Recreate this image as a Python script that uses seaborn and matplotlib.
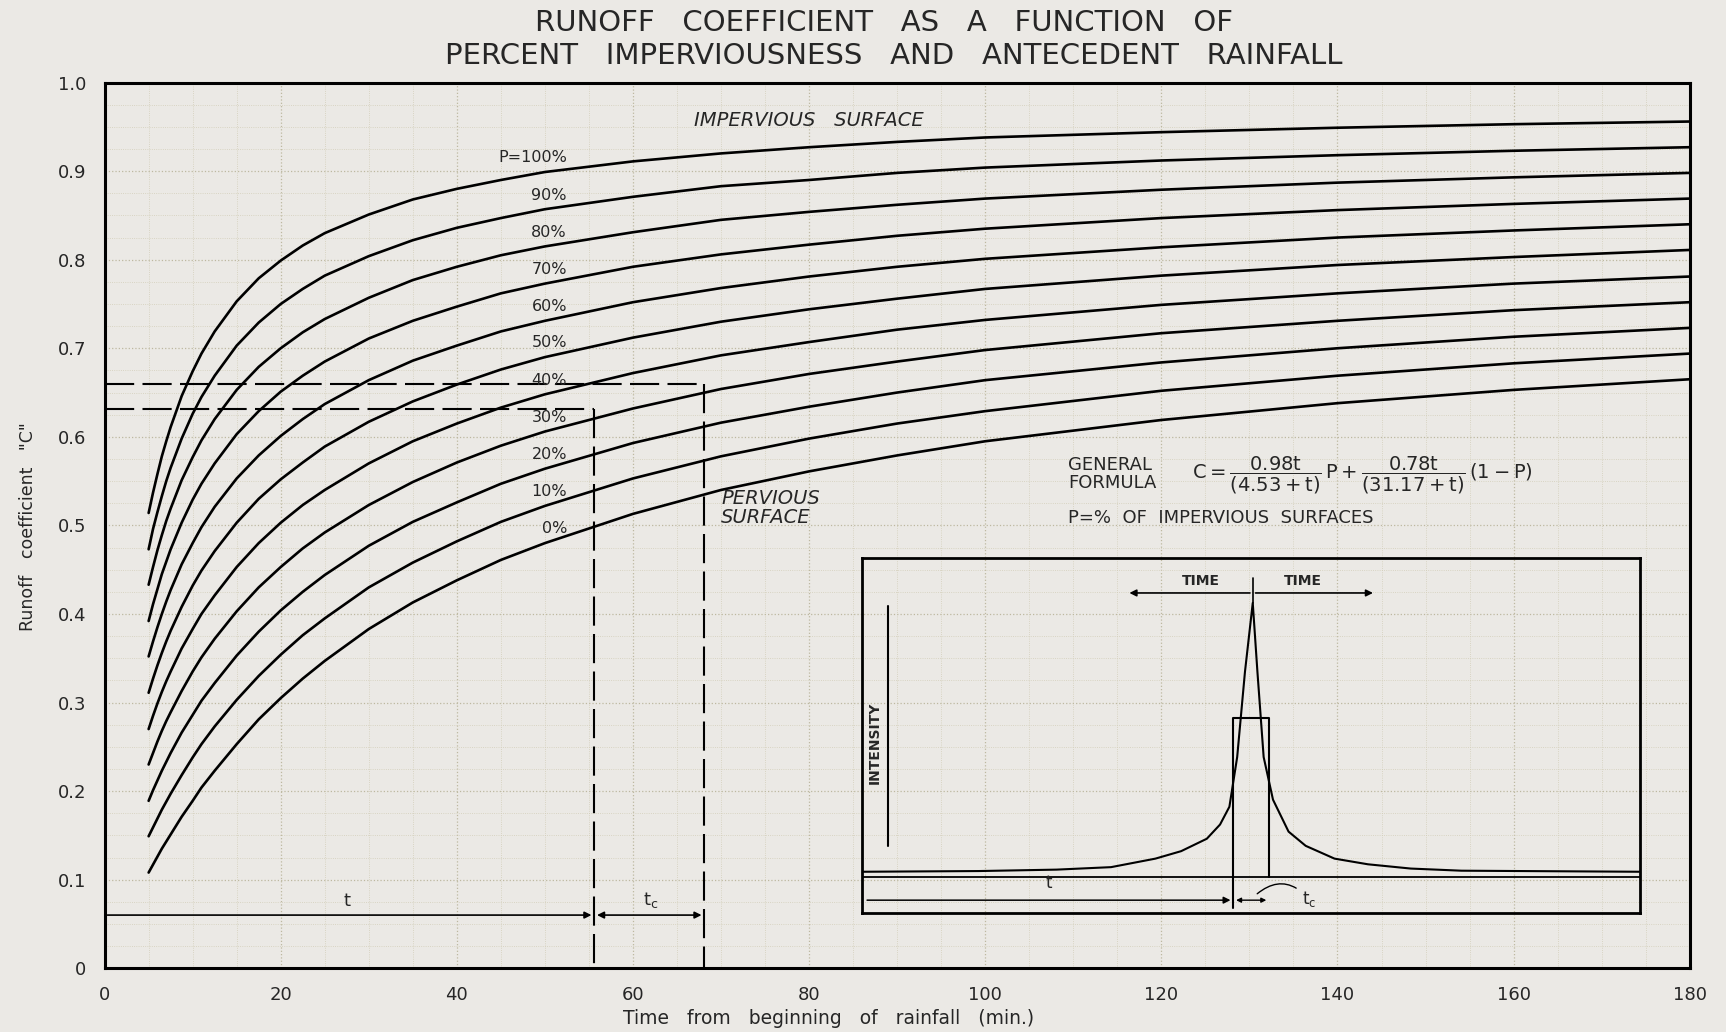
import numpy as np
import pandas as pd
import seaborn as sns
import matplotlib.pyplot as plt

# Runoff coefficient C, one list per % impervious
time_min = [5, 5.5, 6, 6.5, 7, 7.5, 8.75, 10, 11, 12.5, 15, 17.5, 20, 22.5, 25, 30, 35, 40, 45,
            50, 60, 70, 80, 90, 100, 120, 140, 160, 180]
c_p0 = [.108, .117, .126, .135, .143, .151, .171, .189, .204, .223, .253, .281, .305, .327, .347,
        .383, .413, .438, .461, .480, .513, .540, .561, .579, .595, .619, .638, .653, .665]
c_p10 = [.149, .159, .169, .179, .188, .197, .218, .238, .253, .273, .303, .330, .354, .376, .395,
         .430, .458, .482, .504, .522, .553, .578, .598, .615, .629, .652, .669, .683, .694]
c_p20 = [.189, .201, .212, .223, .233, .243, .266, .286, .302, .322, .353, .380, .404, .425, .444,
         .477, .504, .526, .547, .564, .593, .616, .634, .650, .664, .684, .700, .713, .723]
c_p30 = [.230, .243, .256, .268, .279, .289, .313, .335, .351, .372, .403, .430, .453, .474, .492,
         .523, .549, .571, .590, .606, .632, .654, .671, .685, .698, .717, .731, .743, .752]
c_p40 = [.270, .285, .299, .312, .324, .335, .361, .383, .400, .421, .453, .480, .503, .523, .540,
         .570, .595, .615, .633, .648, .672, .692, .707, .721, .732, .749, .762, .773, .781]
c_p50 = [.311, .327, .342, .356, .369, .381, .408, .432, .449, .471, .503, .530, .552, .571, .589,
         .617, .640, .659, .676, .690, .712, .730, .744, .756, .767, .782, .794, .803, .811]
c_p60 = [.352, .369, .385, .400, .414, .427, .456, .480, .498, .521, .553, .579, .601, .620, .637,
         .664, .686, .703, .719, .731, .752, .768, .781, .792, .801, .814, .825, .833, .840]
c_p70 = [.392, .411, .428, .445, .459, .473, .503, .529, .547, .570, .603, .629, .651, .669, .685,
         .711, .731, .747, .762, .773, .792, .806, .817, .827, .835, .847, .856, .863, .869]
c_p80 = [.433, .453, .472, .489, .505, .519, .551, .577, .596, .620, .653, .679, .700, .718, .733,
         .757, .777, .792, .805, .815, .831, .845, .854, .862, .869, .879, .887, .893, .898]
c_p90 = [.473, .496, .515, .533, .550, .565, .598, .626, .645, .669, .703, .729, .750, .767, .782,
         .804, .822, .836, .847, .857, .871, .883, .890, .898, .904, .912, .918, .923, .927]
c_p100 = [.514, .537, .558, .578, .595, .611, .646, .674, .694, .719, .753, .779, .799, .816, .830,
          .851, .868, .880, .890, .899, .911, .920, .927, .933, .938, .944, .949, .953, .956]
pct_impervious = [0, 10, 20, 30, 40, 50, 60, 70, 80, 90, 100]
curve_labels = ["0%", "10%", "20%", "30%", "40%", "50%", "60%", "70%", "80%", "90%", "P=100%"]

# worked example
example_t = [55.6, 68.1]
example_c = [0.631, 0.66]

# inset hyetograph (percent of inset width / height)
hyeto_x = [0, 15, 25, 32, 37.7, 41, 44.3, 46, 47.2, 48.2, 49.2, 50.2, 50.8, 51.6, 52.8, 54.8, 57, 60.7, 65, 70.5, 77, 100]
hyeto_y = [11.7, 11.9, 12.3, 13, 15.4, 17.5, 21, 25, 30, 44, 68, 87.4, 68, 44, 32, 23, 19, 15.4, 13.8, 12.6, 12, 11.7]

all_c = [c_p0, c_p10, c_p20, c_p30, c_p40, c_p50, c_p60, c_p70, c_p80, c_p90, c_p100]
df = pd.concat([pd.DataFrame({"t": time_min, "C": c, "P": p})
                for c, p in zip(all_c, pct_impervious)], ignore_index=True)

sns.set_style("white")
plt.rcParams["font.family"] = ["DejaVu Sans"]
plt.rcParams["mathtext.fontset"] = "dejavusans"
paper = "#ebe9e5"

fig = plt.figure(figsize=(17.26, 10.32), dpi=100, facecolor=paper)
ax = fig.add_axes([0.0606, 0.0618, 0.9184, 0.8582], facecolor=paper)

sns.lineplot(data=df, x="t", y="C", units="P", estimator=None,
             color="black", lw=1.9, ax=ax, legend=False)

ax.set_xlim(0, 180)
ax.set_ylim(0, 1.0)
ax.set_xticks(np.arange(0, 181, 20))
ax.set_yticks(np.arange(0, 1.01, 0.1))
ax.set_yticklabels(["0"] + [f"{v:.1f}" for v in np.arange(0.1, 1.01, 0.1)])
ax.tick_params(length=0, labelsize=13, pad=13)
ax.set_xlabel("")
ax.set_ylabel("")
ax.set_xticks(np.arange(0, 181, 5), minor=True)
ax.set_yticks(np.arange(0, 1.0, 0.025), minor=True)
ax.grid(which="major", ls=":", lw=0.9, color="#bdb8a0")
ax.grid(which="minor", ls=":", lw=0.6, color="#d2cdb8")
for s in ax.spines.values():
    s.set_linewidth(2.2)
    s.set_color("black")

# curve labels just above each curve near t = 50
i50 = time_min.index(50)
for c, lab in zip(all_c, curve_labels):
    ax.text(52.5, c[i50] + 0.016, lab, ha="right", va="center", fontsize=11.5)

ax.text(80, 0.957, "IMPERVIOUS   SURFACE", ha="center", va="center",
        fontsize=14, style="italic")
ax.text(70, 0.52, "PERVIOUS\nSURFACE", ha="left", va="center", fontsize=14,
        style="italic", linespacing=1.0)

# dashed construction lines
dash = dict(color="black", lw=1.5, ls=(0, (14, 4)))
for tt, cc in zip(example_t, example_c):
    ax.plot([0, tt], [cc, cc], **dash)
    ax.plot([tt, tt], [cc, 0], **dash)

# dimension line t / tc
ax.annotate("", xy=(example_t[0], 0.06), xytext=(0, 0.06),
            arrowprops=dict(arrowstyle="-|>", lw=1.2, color="black"))
ax.annotate("", xy=(example_t[1], 0.06), xytext=(example_t[0], 0.06),
            arrowprops=dict(arrowstyle="<|-|>", lw=1.2, color="black"))
ax.text(27.5, 0.066, "t", ha="center", va="bottom", fontsize=13)
ax.text(62, 0.066, r"t$_\mathrm{c}$", ha="center", va="bottom", fontsize=13)

# formula
ax.text(109.4, 0.558, "GENERAL\nFORMULA", ha="left", va="center", fontsize=13,
        linespacing=1.0)
ax.text(123.5, 0.556,
        r"$\mathrm{C}=\dfrac{0.98\mathrm{t}}{(4.53+\mathrm{t})}\,\mathrm{P}+"
        r"\dfrac{0.78\mathrm{t}}{(31.17+\mathrm{t})}\,(1-\mathrm{P})$",
        ha="left", va="center", fontsize=14)
ax.text(109.4, 0.508, "P=%  OF  IMPERVIOUS  SURFACES", ha="left", va="center",
        fontsize=13)

# inset hyetograph sketch
ins = ax.inset_axes([86, 0.062, 88.4, 0.401], transform=ax.transData)
ins.set_facecolor("none")
sns.lineplot(x=hyeto_x, y=hyeto_y, color="black", lw=1.5, ax=ins,
             sort=False, estimator=None)
ins.set_xlim(0, 100)
ins.set_ylim(0, 100)
ins.set_xticks([])
ins.set_yticks([])
for s in ins.spines.values():
    s.set_linewidth(2.0)
    s.set_color("black")
ins.axhline(10.3, color="black", lw=1.3)
ins.plot([47.7, 47.7, 52.3, 52.3], [1.5, 55, 55, 10.3], color="black", lw=1.5)
ins.annotate("", xy=(47.7, 3.7), xytext=(0.3, 3.7),
             arrowprops=dict(arrowstyle="-|>", lw=1.1, color="black"))
ins.annotate("", xy=(52.3, 3.7), xytext=(47.7, 3.7),
             arrowprops=dict(arrowstyle="<|-|>", lw=1.0, color="black",
                             mutation_scale=7))
ins.text(24, 6, "t", ha="center", va="bottom", fontsize=12)
ins.annotate(r"t$_\mathrm{c}$", xy=(50.5, 5), xytext=(56.5, 4),
             fontsize=12, ha="left", va="center",
             arrowprops=dict(arrowstyle="-", lw=1.0, color="black",
                             connectionstyle="arc3,rad=0.5"))
ins.annotate("", xy=(34, 90.2), xytext=(50.2, 90.2),
             arrowprops=dict(arrowstyle="-|>", lw=1.2, color="black"))
ins.annotate("", xy=(66, 90.2), xytext=(50.2, 90.2),
             arrowprops=dict(arrowstyle="-|>", lw=1.2, color="black"))
ins.plot([50.2, 50.2], [87.5, 94.5], color="black", lw=1.2)
ins.text(43.6, 93.5, "TIME", ha="center", va="center", fontsize=10,
         fontweight="bold")
ins.text(56.6, 93.5, "TIME", ha="center", va="center", fontsize=10,
         fontweight="bold")
ins.plot([3.3, 3.3], [19, 86.5], color="black", lw=1.5)
ins.text(1.7, 48, "INTENSITY", rotation=90, ha="center", va="center",
         fontsize=10, fontweight="bold")

# titles and axis labels
fig.text(0.512, 0.978, "RUNOFF   COEFFICIENT   AS   A   FUNCTION   OF",
         ha="center", va="center", fontsize=21)
fig.text(0.518, 0.946, "PERCENT   IMPERVIOUSNESS   AND   ANTECEDENT   RAINFALL",
         ha="center", va="center", fontsize=21)
fig.text(0.016, 0.49, 'Runoff   coefficient   "C"', rotation=90,
         ha="center", va="center", fontsize=12.5)
fig.text(0.48, 0.013, "Time   from   beginning   of   rainfall   (min.)",
         ha="center", va="center", fontsize=13.5)

fig.savefig("out.png", dpi=100, facecolor=paper)
